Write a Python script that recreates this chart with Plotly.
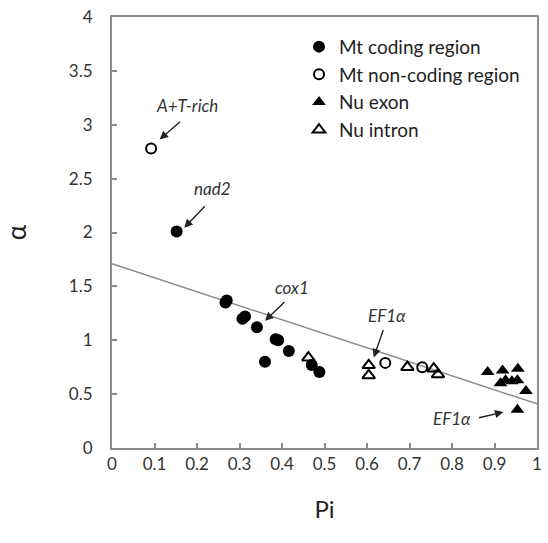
import plotly.graph_objects as go

# ---- data ----
mt_coding_x = [0.152, 0.267, 0.27, 0.307, 0.313, 0.341, 0.385, 0.391, 0.416, 0.36, 0.47, 0.488]
mt_coding_y = [2.01, 1.35, 1.37, 1.20, 1.22, 1.12, 1.01, 1.00, 0.90, 0.80, 0.77, 0.705]

mt_noncoding_x = [0.092, 0.643, 0.730]
mt_noncoding_y = [2.78, 0.79, 0.75]

nu_exon_x = [0.884, 0.919, 0.955, 0.914, 0.926, 0.941, 0.954, 0.974, 0.954]
nu_exon_y = [0.705, 0.72, 0.736, 0.60, 0.628, 0.62, 0.628, 0.53, 0.355]

nu_intron_x = [0.462, 0.604, 0.604, 0.695, 0.757, 0.767]
nu_intron_y = [0.838, 0.767, 0.674, 0.75, 0.736, 0.683]

fit_x = [0.0, 1.0]
fit_y = [1.71, 0.41]

x_ticks = [round(0.1 * i, 1) for i in range(11)]
x_tick_labels = ["0", "0.1", "0.2", "0.3", "0.4", "0.5", "0.6", "0.7", "0.8", "0.9", "1"]
y_ticks = [0, 0.5, 1, 1.5, 2, 2.5, 3, 3.5, 4]
y_tick_labels = ["0", "0.5", "1", "1.5", "2", "2.5", "3", "3.5", "4"]

# annotations: (text, text_x, text_y, head_x, head_y, tail_dx_px, tail_dy_px)
labels = [
    ("A+T-rich", 0.177, 3.178, 0.112, 2.864, 22, -19),
    ("nad2", 0.237, 2.41, 0.170, 2.044, 22, -23),
    ("cox1", 0.423, 1.487, 0.360, 1.182, 21, -20),
    ("EF1α", 0.647, 1.229, 0.616, 0.841, 10, -29),
    ("EF1α", 0.800, 0.277, 0.921, 0.333, -26, 6),
]

FONT = "Lato, 'Open Sans', sans-serif"
AX = "#8c8c8c"

fig = go.Figure()

fig.add_trace(go.Scatter(x=fit_x, y=fit_y, mode="lines",
                         line=dict(color="#8a8a8a", width=1.5),
                         showlegend=False, hoverinfo="skip"))

fig.add_trace(go.Scatter(x=mt_coding_x, y=mt_coding_y, mode="markers",
                         name="Mt coding region", legendgroup="a",
                         marker=dict(symbol="circle", size=12, color="black")))
fig.add_trace(go.Scatter(x=mt_noncoding_x, y=mt_noncoding_y, mode="markers",
                         name="Mt non-coding region", legendgroup="b",
                         marker=dict(symbol="circle-open", size=10, color="black",
                                     line=dict(width=2, color="black"))))
fig.add_trace(go.Scatter(x=nu_exon_x, y=nu_exon_y, mode="markers",
                         name="Nu exon", legendgroup="c",
                         marker=dict(symbol="triangle-up", size=12, color="black")))
fig.add_trace(go.Scatter(x=nu_intron_x, y=nu_intron_y, mode="markers",
                         name="Nu intron", legendgroup="d",
                         marker=dict(symbol="triangle-up-open", size=11, color="black",
                                     line=dict(width=2, color="black"))))

for text, tx, ty, hx, hy, dx, dy in labels:
    fig.add_annotation(x=tx, y=ty, xref="x", yref="y", text=f"<i>{text}</i>",
                       showarrow=False, font=dict(family=FONT, size=17, color="#333"))
    fig.add_annotation(x=hx, y=hy, xref="x", yref="y", text="",
                       showarrow=True, ax=dx, ay=dy, axref="pixel", ayref="pixel",
                       arrowhead=2, arrowsize=1.2, arrowwidth=1.4, arrowcolor="#222")

fig.update_layout(
    width=548, height=543,
    margin=dict(l=112, r=6, t=15, b=95),
    paper_bgcolor="white", plot_bgcolor="white",
    font=dict(family=FONT, size=17, color="#333"),
    legend=dict(x=0.44, y=0.975, xanchor="left", yanchor="top",
                font=dict(family=FONT, size=19, color="#222"),
                bgcolor="rgba(0,0,0,0)", tracegroupgap=0, itemwidth=30),
    xaxis=dict(range=[0, 1], tickvals=x_ticks, ticktext=x_tick_labels,
               showgrid=False, zeroline=False,
               showline=True, linecolor=AX, linewidth=2, mirror=True,
               ticks="inside", ticklen=5, tickcolor=AX, tickwidth=1.5,
               tickfont=dict(size=17, color="#333"),
               title=dict(text="Pi", font=dict(size=24, color="#222"), standoff=28)),
    yaxis=dict(range=[0, 4], tickvals=y_ticks, ticktext=y_tick_labels,
               showgrid=False, zeroline=False,
               showline=True, linecolor=AX, linewidth=2, mirror=True,
               ticks="inside", ticklen=5, tickcolor=AX, tickwidth=1.5,
               tickfont=dict(size=17, color="#333"), ticklabelstandoff=14,
               title=dict(text="α", font=dict(size=26, color="#222"), standoff=36)),
)

fig.write_html("out.html")
